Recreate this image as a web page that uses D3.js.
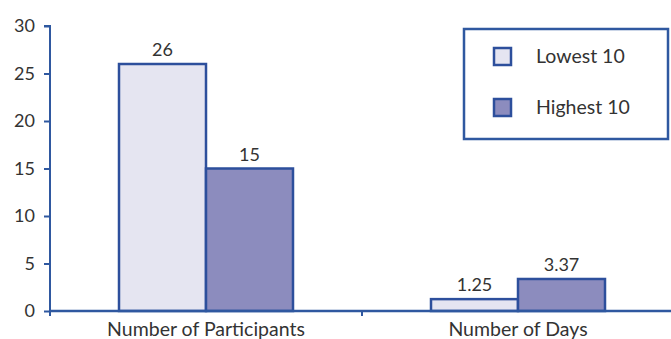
<!DOCTYPE html>
<html>
<head>
<meta charset="utf-8">
<script src="https://cdn.jsdelivr.net/npm/d3@7"></script>
<style>
  html, body { margin: 0; padding: 0; background: #fff; }
  svg { display: block; }
  text { font-family: Lato, "Open Sans", sans-serif; fill: #333; }
</style>
</head>
<body>
<svg id="chart" width="671" height="339"></svg>
<script>
// Chart data
const categories = ["Number of Participants", "Number of Days"];
const series = ["Lowest 10", "Highest 10"];
const lowest10 = [26, 1.25];
const highest10 = [15, 3.37];
const valueLabels = [["26", "15"], ["1.25", "3.37"]];
const yTicks = [0, 5, 10, 15, 20, 25, 30];

const fills = { "Lowest 10": "#e5e5f1", "Highest 10": "#8c8cbe" };
const stroke = "#2d4f9c";
const axisColor = "#2f58a0";

const svg = d3.select("#chart");
const plotLeft = 50, plotRight = 674, plotTop = 26, plotBottom = 311;

const x0 = d3.scaleBand().domain(categories).range([plotLeft, plotRight]).padding(0);
const groupPad = 69;
const x1 = d3.scaleBand().domain(series)
  .range([groupPad, x0.bandwidth() - groupPad]).padding(0);
const y = d3.scaleLinear().domain([0, 30]).range([plotBottom, plotTop]);

const rows = categories.map((c, i) => ({
  category: c,
  values: [
    { key: "Lowest 10", value: lowest10[i], label: valueLabels[i][0] },
    { key: "Highest 10", value: highest10[i], label: valueLabels[i][1] }
  ]
}));

// Y axis
const yAxis = d3.axisLeft(y).tickValues(yTicks).tickSize(6).tickPadding(9);
const gy = svg.append("g").attr("transform", `translate(${plotLeft},0)`).call(yAxis);
gy.select(".domain").attr("stroke", axisColor).attr("stroke-width", 2)
  .attr("d", `M-6,${plotTop}H0V${plotBottom + 5}`);
gy.selectAll(".tick line").attr("stroke", axisColor).attr("stroke-width", 2);
gy.selectAll(".tick text").style("font-size", "18px").style("fill", "#333")
  .attr("font-family", "Lato, sans-serif");

// Bars
const groups = svg.append("g").selectAll("g").data(rows).join("g")
  .attr("transform", d => `translate(${x0(d.category)},0)`);

groups.selectAll("rect").data(d => d.values).join("rect")
  .attr("x", d => x1(d.key))
  .attr("y", d => y(d.value))
  .attr("width", x1.bandwidth())
  .attr("height", d => y(0) - y(d.value))
  .attr("fill", d => fills[d.key])
  .attr("stroke", stroke)
  .attr("stroke-width", 2.5);

groups.selectAll("text").data(d => d.values).join("text")
  .attr("x", d => x1(d.key) + x1.bandwidth() / 2)
  .attr("y", d => y(d.value) - 8)
  .attr("text-anchor", "middle")
  .style("font-size", "18px")
  .text(d => d.label);

// X axis
const xAxis = d3.axisBottom(x0).tickSize(0).tickPadding(11);
const gx = svg.append("g").attr("transform", `translate(0,${plotBottom})`).call(xAxis);
gx.select(".domain").attr("stroke", axisColor).attr("stroke-width", 2.5)
  .attr("d", `M${plotLeft},0H${plotRight}`);
gx.selectAll(".tick text").style("font-size", "19.5px").style("fill", "#333")
  .attr("font-family", "Lato, sans-serif");
gx.append("line")
  .attr("x1", x0(categories[1])).attr("x2", x0(categories[1]))
  .attr("y1", 0).attr("y2", 5)
  .attr("stroke", axisColor).attr("stroke-width", 2);

// Legend
const legend = svg.append("g").attr("transform", "translate(464,29)");
legend.append("rect").attr("width", 204).attr("height", 110)
  .attr("fill", "#fff").attr("stroke", axisColor).attr("stroke-width", 2.5);
const items = legend.selectAll("g.item").data(series).join("g")
  .attr("class", "item")
  .attr("transform", (d, i) => `translate(30,${19 + i * 51})`);
items.append("rect").attr("width", 17).attr("height", 17)
  .attr("fill", d => fills[d]).attr("stroke", stroke).attr("stroke-width", 2.5);
items.append("text").attr("x", 42).attr("y", 15)
  .style("font-size", "19.5px").text(d => d);
</script>
</body>
</html>
